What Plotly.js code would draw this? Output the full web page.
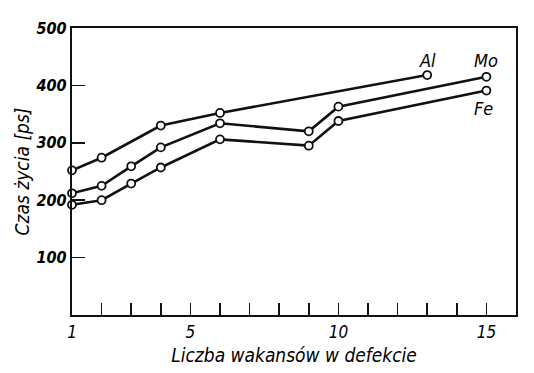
<!DOCTYPE html>
<html>
<head>
<meta charset="utf-8">
<script src="https://cdn.plot.ly/plotly-3.0.1.min.js"></script>
<style>html,body{margin:0;padding:0;background:#fff;}#chart{width:534px;height:373px;}</style>
</head>
<body>
<div id="chart"></div>
<script>
// Data
const seriesNames = ["Al", "Mo", "Fe"];
const alX = [1, 2, 4, 6, 13];
const alY = [252, 274, 330, 352, 418];
const moX = [1, 2, 3, 4, 6, 9, 10, 15];
const moY = [212, 225, 259, 292, 334, 320, 363, 415];
const feX = [1, 2, 3, 4, 6, 9, 10, 15];
const feY = [192, 200, 229, 257, 306, 295, 338, 391];
const xTickVals = [1,2,3,4,5,6,7,8,9,10,11,12,13,14,15];
const xTickText = ["1","","","","5","","","","","10","","","","","15"];
const yTickVals = [100, 200, 300, 400, 500];
const xTitle = "Liczba wakansów w defekcie";
const yTitle = "Czas życia [ps]";

const FONT = "DejaVu Sans Condensed, DejaVu Sans, sans-serif";
const INK = "#000000";
const mk = (x, y, name) => ({
  x: x, y: y, name: name, type: "scatter", mode: "lines+markers",
  line: {color: "#111", width: 2.6},
  marker: {symbol: "circle", size: 8, color: "#fff", line: {color: "#111", width: 1.8}},
  cliponaxis: false, showlegend: false
});
const data = [mk(alX, alY, seriesNames[0]), mk(moX, moY, seriesNames[1]), mk(feX, feY, seriesNames[2])];

const labelFont = {family: FONT, size: 18, color: INK, style: "italic"};
const annotations = [
  {x: alX[alX.length-1], y: alY[alY.length-1], text: seriesNames[0], yshift: 15, xshift: 0},
  {x: moX[moX.length-1], y: moY[moY.length-1], text: seriesNames[1], yshift: 16, xshift: 0},
  {x: feX[feX.length-1], y: feY[feY.length-1], text: seriesNames[2], yshift: -18, xshift: -3}
].map(a => Object.assign({xref: "x", yref: "y", showarrow: false, font: labelFont}, a));

const layout = {
  width: 534, height: 373,
  margin: {l: 72, r: 18, t: 28, b: 58},
  paper_bgcolor: "#fff", plot_bgcolor: "#fff",
  font: {family: FONT, color: INK},
  xaxis: {
    range: [1, 16], tickvals: xTickVals, ticktext: xTickText,
    ticks: "inside", ticklen: 12, tickwidth: 1.6, tickcolor: "#111",
    showline: true, linecolor: "#111", linewidth: 2.2, mirror: true,
    showgrid: false, zeroline: false,
    tickfont: {family: FONT, size: 17, color: INK, style: "italic"},
    title: {text: xTitle, font: {family: FONT, size: 19, color: INK, style: "italic"}, standoff: 8}
  },
  yaxis: {
    range: [0, 500], tickvals: yTickVals,
    ticks: "inside", ticklen: 13, tickwidth: 1.6, tickcolor: "#111",
    showline: true, linecolor: "#111", linewidth: 2.2, mirror: true,
    showgrid: false, zeroline: false,
    ticklabelstandoff: 0,
    tickfont: {family: FONT, size: 16, color: INK, style: "italic", weight: "bold"},
    title: {text: yTitle, font: {family: FONT, size: 19, color: INK, style: "italic"}, standoff: 1}
  },
  annotations: annotations
};
Plotly.newPlot("chart", data, layout, {staticPlot: true, displayModeBar: false});
</script>
</body>
</html>
